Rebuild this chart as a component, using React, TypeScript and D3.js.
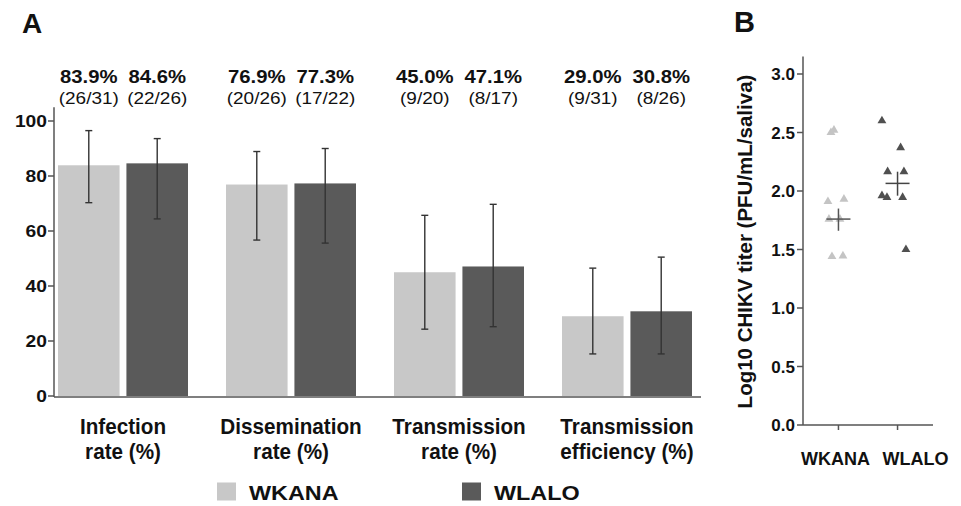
import React from "react";
import * as d3 from "d3";

// ---------- Panel A data ----------
const categories = ["Infection", "Dissemination", "TransRate", "TransEff"];
const categoryLine1 = ["Infection", "Dissemination", "Transmission", "Transmission"];
const categoryLine2 = ["rate (%)", "rate (%)", "rate (%)", "efficiency (%)"];
const seriesNames = ["WKANA", "WLALO"];
const wkanaRates = [83.9, 76.9, 45.0, 29.0];
const wlaloRates = [84.6, 77.3, 47.1, 30.8];
const wkanaUpper = [96.5, 88.9, 65.7, 46.5];
const wkanaLower = [70.3, 56.7, 24.3, 15.3];
const wlaloUpper = [93.6, 90.0, 69.7, 50.5];
const wlaloLower = [64.4, 55.6, 25.2, 15.3];
const wkanaPctLabels = ["83.9%", "76.9%", "45.0%", "29.0%"];
const wlaloPctLabels = ["84.6%", "77.3%", "47.1%", "30.8%"];
const wkanaFracLabels = ["(26/31)", "(20/26)", "(9/20)", "(9/31)"];
const wlaloFracLabels = ["(22/26)", "(17/22)", "(8/17)", "(8/26)"];
const yTicksA = [0, 20, 40, 60, 80, 100];

// ---------- Panel B data ----------
const groupsB = ["WKANA", "WLALO"];
const wkanaTiters = [2.50, 2.52, 1.91, 1.93, 1.76, 1.76, 1.44, 1.445];
const wkanaJitter = [-0.127, -0.076, -0.178, 0.093, -0.161, 0.025, -0.11, 0.076];
const wlaloTiters = [2.60, 2.37, 2.165, 2.165, 1.96, 1.945, 1.945, 1.50];
const wlaloJitter = [-0.264, 0.052, -0.168, 0.108, -0.264, -0.179, 0.086, 0.142];
const meanB = [1.76, 2.065];
const errLowB = [1.66, 1.96];
const errHighB = [1.85, 2.165];
const yTicksB = [0, 0.5, 1.0, 1.5, 2.0, 2.5, 3.0];

const COL_LIGHT = "#c8c8c8";
const COL_DARK = "#5a5a5a";
const AXIS = "#555";
const FONT = "'Liberation Sans', Arial, Helvetica, sans-serif";

type STProps = {
  x: number; y: number; sx?: number; size: number; weight?: string | number;
  anchor?: "start" | "middle" | "end"; dy?: string; fill?: string; children: React.ReactNode;
};
const SText = ({ x, y, sx = 1, size, weight = "bold", anchor = "middle", dy, fill = "#111", children }: STProps) => (
  <g transform={`translate(${x},${y}) scale(${sx},1)`}>
    <text fontSize={size} fontWeight={weight} textAnchor={anchor} dy={dy} fill={fill}>{children}</text>
  </g>
);

export default function App() {
  // Panel A scales
  const yA = d3.scaleLinear().domain([0, 100]).range([396, 121]);
  const x0 = d3.scaleBand<string>().domain(categories).range([39, 711]).paddingInner(0).paddingOuter(0);
  const x1 = d3.scaleBand<string>().domain(seriesNames).range([19, 149]).paddingInner(0.1);
  const rates = [wkanaRates, wlaloRates];
  const uppers = [wkanaUpper, wlaloUpper];
  const lowers = [wkanaLower, wlaloLower];
  const pcts = [wkanaPctLabels, wlaloPctLabels];
  const fracs = [wkanaFracLabels, wlaloFracLabels];
  const colors = [COL_LIGHT, COL_DARK];
  const capW = 3.5;

  // Panel B scales
  const yB = d3.scaleLinear().domain([0, 3]).range([425, 74]);
  const xB = d3.scalePoint<string>().domain(groupsB).range([803, 933]).padding(0.6);
  const stepB = xB.step();
  const tri = d3.symbol().type(d3.symbolTriangle).size(34)() as string;
  const titers = [wkanaTiters, wlaloTiters];
  const jitters = [wkanaJitter, wlaloJitter];
  const triColors = ["#c4c4c4", "#505050"];
  const crossColors = ["#555", "#444"];
  const xLabelShift = [-3, 18];

  return (
    <svg width={961} height={506} style={{ position: "absolute", left: 0, top: 0, background: "#fff" }} fontFamily={FONT}>
      <rect x={0} y={0} width={961} height={506} fill="#fff" />
      {/* Panel labels */}
      <SText x={22} y={33} size={28} anchor="start">A</SText>
      <SText x={734} y={32} size={29} anchor="start">B</SText>

      {/* ---------- Panel A ---------- */}
      {categories.map((c, i) =>
        seriesNames.map((s, k) => {
          const bx = (x0(c) as number) + (x1(s) as number);
          const bw = x1.bandwidth();
          const cx = bx + bw / 2;
          return (
            <g key={c + s}>
              <rect x={bx} y={yA(rates[k][i])} width={bw} height={yA(0) - yA(rates[k][i])} fill={colors[k]} />
              <line x1={cx} x2={cx} y1={yA(uppers[k][i])} y2={yA(lowers[k][i])} stroke="#333" strokeWidth={1.4} />
              <line x1={cx - capW} x2={cx + capW} y1={yA(uppers[k][i])} y2={yA(uppers[k][i])} stroke="#333" strokeWidth={1.4} />
              <line x1={cx - capW} x2={cx + capW} y1={yA(lowers[k][i])} y2={yA(lowers[k][i])} stroke="#333" strokeWidth={1.4} />
              <SText x={cx} y={83} size={17.5} sx={1.16}>{pcts[k][i]}</SText>
              <SText x={cx} y={104} size={16.8} sx={1.13} weight="normal">{fracs[k][i]}</SText>
            </g>
          );
        })
      )}
      {/* y axis A */}
      <line x1={54} x2={54} y1={yA(105)} y2={yA(0) + 1} stroke={AXIS} strokeWidth={1.5} />
      {yTicksA.map((t) => (
        <g key={t}>
          <line x1={48} x2={54} y1={yA(t)} y2={yA(t)} stroke={AXIS} strokeWidth={1.5} />
          <SText x={47} y={yA(t)} size={16.3} sx={1.18} anchor="end" dy="0.36em">{t}</SText>
        </g>
      ))}
      {/* x axis A */}
      <line x1={54} x2={701} y1={yA(0) + 1} y2={yA(0) + 1} stroke={AXIS} strokeWidth={1.5} />
      {categories.map((c, i) => {
        const cx = (x0(c) as number) + x0.bandwidth() / 2;
        return (
          <g key={c + "lab"}>
            <SText x={cx} y={434} size={22} sx={0.94}>{categoryLine1[i]}</SText>
            <SText x={cx} y={459} size={22} sx={0.94}>{categoryLine2[i]}</SText>
          </g>
        );
      })}
      {/* legend */}
      {seriesNames.map((s, k) => {
        const lx = k === 0 ? 217 : 462;
        return (
          <g key={s + "leg"}>
            <rect x={lx} y={482.5} width={19} height={18} fill={colors[k]} />
            <SText x={lx + 32} y={499.5} size={20} sx={1.17} anchor="start">{s}</SText>
          </g>
        );
      })}

      {/* ---------- Panel B ---------- */}
      {titers.map((arr, g) =>
        arr.map((v, j) => (
          <path key={g + "-" + j} d={tri}
            transform={`translate(${(xB(groupsB[g]) as number) + jitters[g][j] * stepB},${yB(v)})`}
            fill={triColors[g]} />
        ))
      )}
      {groupsB.map((gname, g) => {
        const cx = xB(gname) as number;
        return (
          <g key={gname + "cross"} stroke={crossColors[g]} strokeWidth={1.5}>
            <line x1={cx - 12} x2={cx + 12} y1={yB(meanB[g])} y2={yB(meanB[g])} />
            <line x1={cx} x2={cx} y1={yB(errHighB[g])} y2={yB(errLowB[g])} />
          </g>
        );
      })}
      <line x1={803} x2={803} y1={yB(3.15)} y2={yB(0)} stroke={AXIS} strokeWidth={1.5} />
      {yTicksB.map((t) => (
        <g key={"b" + t}>
          <line x1={797} x2={803} y1={yB(t)} y2={yB(t)} stroke={AXIS} strokeWidth={1.5} />
          <SText x={795} y={yB(t)} size={17} anchor="end" dy="0.36em">{d3.format(".1f")(t)}</SText>
        </g>
      ))}
      <line x1={803} x2={933} y1={yB(0)} y2={yB(0)} stroke={AXIS} strokeWidth={1.5} />
      {groupsB.map((gname, g) => {
        const cx = xB(gname) as number;
        return (
          <g key={gname + "xt"}>
            <line x1={cx} x2={cx} y1={yB(0)} y2={yB(0) + 5} stroke={AXIS} strokeWidth={1.5} />
            <SText x={cx + xLabelShift[g]} y={465} size={18}>{gname}</SText>
          </g>
        );
      })}
      <g transform={`translate(752,241.5) rotate(-90)`}>
        <text fontSize={20.5} fontWeight="bold" textAnchor="middle" fill="#111">Log10 CHIKV titer (PFU/mL/saliva)</text>
      </g>
    </svg>
  );
}
